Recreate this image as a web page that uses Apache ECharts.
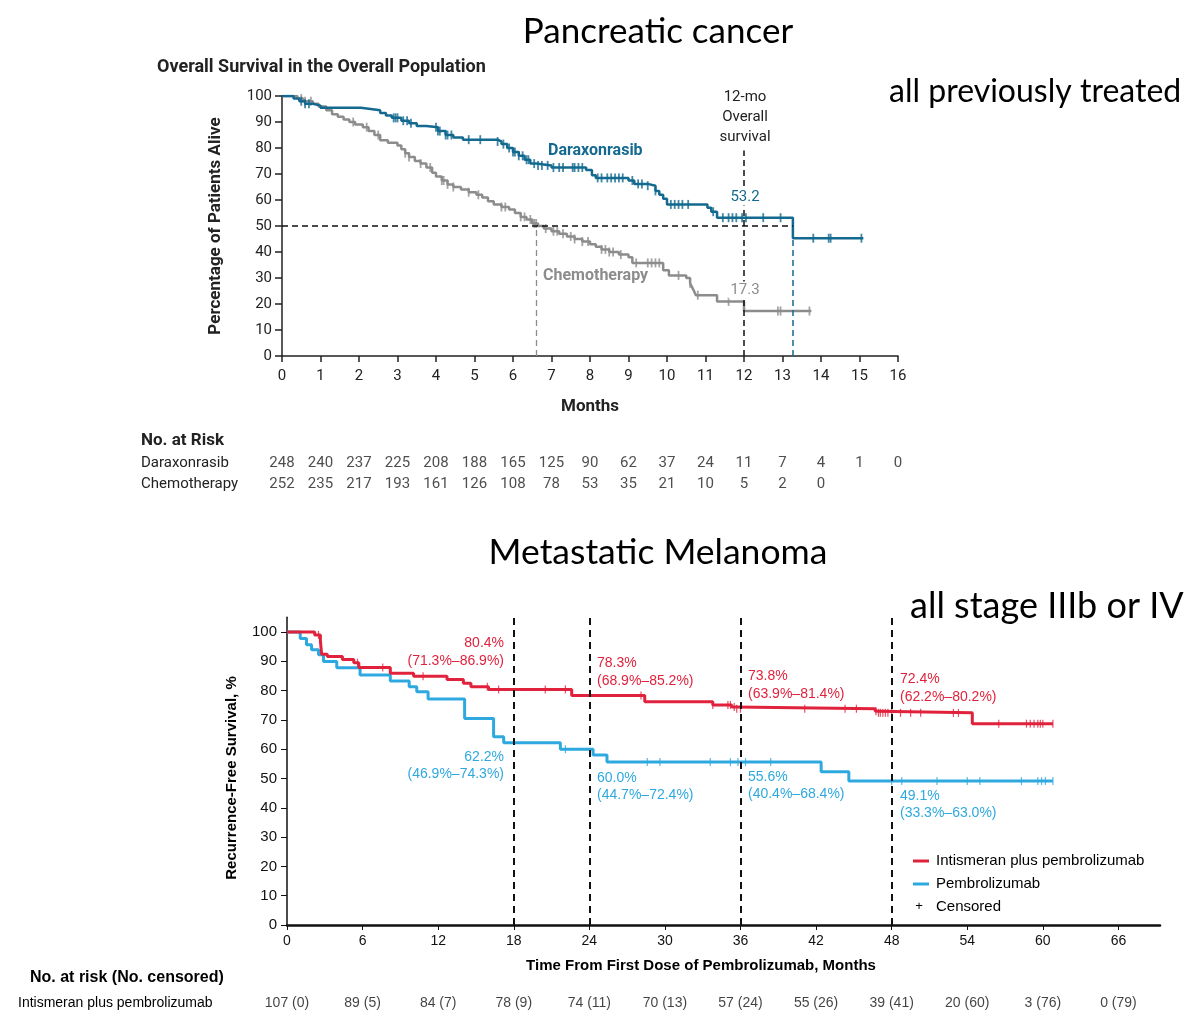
<!DOCTYPE html>
<html>
<head>
<meta charset="utf-8">
<script src="https://cdn.jsdelivr.net/npm/echarts@6/dist/echarts.min.js"></script>
<style>html,body{margin:0;padding:0;background:#fff;}#c{width:1200px;height:1033px;}</style>
</head>
<body>
<div id="c"></div>
<script>
// ---------- Pancreatic cancer (top) ----------
const daraTimes = [0,0.3,0.45,0.6,0.8,1.0,2.05,2.3,2.55,2.7,2.85,3.1,3.3,3.5,3.75,4.05,4.25,4.45,4.7,5.6,5.7,5.85,6.0,6.15,6.3,6.45,6.6,7.0,7.9,8.05,8.15,9.0,9.15,9.5,9.7,9.8,9.9,10.0,11.05,11.15,11.3,13.27,15.1];
const daraSurv  = [100,99,98,97,96.3,95.5,95,94.5,93.5,92.5,91.6,90.5,89.5,88.5,88,86.5,85,84,83.2,82.5,81.5,80,78.5,77,75.5,74,73.3,72.5,71.5,69.5,68.5,67.5,66.2,65.5,63.5,62,60.5,58.3,57,55.5,53.2,45.3,45.3];
const daraCensor = [0.5,0.6,0.7,2.9,2.95,3.0,3.15,3.25,3.35,4.0,4.05,4.1,4.25,4.3,4.4,4.85,5.15,5.6,5.75,5.9,6.0,6.05,6.15,6.25,6.35,6.4,6.55,6.65,6.75,6.9,7.05,7.2,7.3,7.55,7.6,7.7,7.8,8.2,8.3,8.45,8.55,8.65,8.75,8.85,9.1,9.25,9.35,9.5,9.7,10.1,10.2,10.3,10.4,10.55,11.2,11.45,11.6,11.7,11.8,11.95,12.05,12.5,12.95,13.8,14.2,14.25,15.05];

const chemoTimes = [0,0.4,0.55,0.8,0.95,1.15,1.3,1.45,1.6,1.75,1.9,2.1,2.25,2.4,2.55,2.75,3.0,3.1,3.2,3.3,3.45,3.6,3.75,3.9,4.0,4.15,4.3,4.45,4.65,4.85,5.05,5.2,5.35,5.5,5.7,5.9,6.05,6.2,6.35,6.5,6.65,6.8,7.0,7.2,7.4,7.6,7.8,8.0,8.15,8.3,8.5,8.75,9.0,9.1,9.9,10.05,10.5,10.6,10.65,10.7,10.75,11.3,12.0,13.75];
const chemoSurv  = [100,99,98,97,96,94.5,93,92,91,90,89,88,86.5,85,83,82,81,79.5,78,76.5,75,74,72.5,70.5,69,67.5,66,65,64,63,62,61,59.5,58.3,57.3,56.3,55,53.5,52.5,51,50,49,48,47,46,45,44,43,42,41,40,39,38,35.8,33,31,30,28,26.5,25,23.4,21,17.3,17.3];
const chemoCensor = [0.5,0.6,0.75,1.85,2.2,2.5,3.2,3.3,3.6,3.85,4.15,4.2,4.3,4.45,4.85,5.1,5.7,5.8,6.2,6.3,6.45,6.55,6.6,6.85,7.05,7.15,7.3,7.5,7.6,7.8,7.95,8.3,8.4,8.5,8.6,8.8,9.2,9.5,9.6,9.7,9.8,10.3,10.6,10.8,11.6,12.88,12.95,13.7];

const topMonths = [0,1,2,3,4,5,6,7,8,9,10,11,12,13,14,15,16];
const daraRisk  = [248,240,237,225,208,188,165,125,90,62,37,24,11,7,4,1,0];
const chemoRisk = [252,235,217,193,161,126,108,78,53,35,21,10,5,2,0];
const medianDara = 13.27, medianChemo = 6.6, landmarkTop = 12;

// ---------- Metastatic melanoma (bottom) ----------
const intiTimes = [0,2.2,2.65,2.75,3.2,4.4,5.3,5.7,8.2,10.05,12.7,14.0,14.6,16.0,22.6,28.4,33.8,35.3,35.6,46.7,46.9,54.4,60.8];
const intiSurv  = [100,99,97,92.4,91.6,90.6,89.5,87.9,85.9,84.9,83.8,82.5,81.3,80.4,78.3,76.2,75.1,74.4,73.8,72.9,72.4,68.7,68.7];
const intiCensor = [2.5,5.6,7.6,10.8,15.9,16.8,20.5,22.1,28.1,33.8,35.0,35.2,35.5,35.7,36.0,41.1,44.3,45.2,46.75,46.95,47.1,47.3,47.5,47.7,48.0,48.7,49.5,50.3,52.9,53.3,56.5,58.7,59.0,59.3,59.6,59.8,60.0,60.8];

const pemTimes = [0,1.05,1.55,1.95,2.5,2.9,3.95,5.8,8.2,9.7,10.3,11.2,14.1,16.4,17.2,21.7,24.3,25.4,42.4,44.6,60.8];
const pemSurv  = [100,97.8,95.6,93.9,92.2,89.9,87.8,85.3,83.3,81.3,79.6,77.1,70.5,64.2,62.2,60.0,58.0,55.6,52.3,49.1,49.1];
const pemCensor = [22.1,28.6,29.6,33.6,35.2,35.8,36.4,38.4,48.0,48.8,51.6,54.0,55.0,58.3,59.6,59.9,60.2,60.8];

const melMonths = [0,6,12,18,24,30,36,42,48,54,60,66];
const melRisk = ['107 (0)','89 (5)','84 (7)','78 (9)','74 (11)','70 (13)','57 (24)','55 (26)','39 (41)','20 (60)','3 (76)','0 (79)'];
const melLandmarks = [18,24,36,48];
const melYTicks = [0,10,20,30,40,50,60,70,80,90,100];
const intiAnnot = [['80.4%','(71.3%–86.9%)'],['78.3%','(68.9%–85.2%)'],['73.8%','(63.9%–81.4%)'],['72.4%','(62.2%–80.2%)']];
const pemAnnot  = [['62.2%','(46.9%–74.3%)'],['60.0%','(44.7%–72.4%)'],['55.6%','(40.4%–68.4%)'],['49.1%','(33.3%–63.0%)']];

// ---------- helpers ----------
function stepData(t, s){ return t.map((v,i)=>[v, s[i]]); }
function censorData(c, t, s){
  return c.map(x=>{ let v=s[0]; for(let i=0;i<t.length;i++){ if(t[i]<=x) v=s[i]; } return [x, v]; });
}

const TEAL='#13698f', GRAY='#8c8c8c', RED='#e1223d', BLUE='#2ea9df';
const F_TOP='"Liberation Sans Narrow", Roboto, sans-serif';
const F_BOT='"Liberation Sans", Arial, sans-serif';
const F_TTL='Lato, "Open Sans", sans-serif';

function txt(text, x, y, o){
  o = o || {};
  const st = { text:text, fill:o.color||'#111', font:(o.weight||'normal')+' '+(o.size||15)+'px '+(o.family||F_TOP),
      align:o.align||'left', verticalAlign:'middle' };
  if (o.bg) { st.backgroundColor = o.bg; st.padding = [1,2]; }
  return { type:'text', x:x, y:y, rotation:o.rot||0, silent:true, z:100, style:st };
}

const chart = echarts.init(document.getElementById('c'), null, {renderer:'canvas', width:1200, height:1033});

const graphics = [
  txt('Pancreatic cancer', 658, 32, {size:35, family:F_TTL, align:'center', color:'#000'}),
  txt('Overall Survival in the Overall Population', 157, 67, {size:18, weight:'bold', color:'#222'}),
  txt('all previously treated', 889, 92, {size:32, family:F_TTL, color:'#000'}),
  txt('12-mo', 745, 97, {size:15, align:'center', color:'#222'}),
  txt('Overall', 745, 117, {size:15, align:'center', color:'#222'}),
  txt('survival', 745, 137, {size:15, align:'center', color:'#222'}),
  txt('Daraxonrasib', 548, 151, {size:16, weight:'bold', color:TEAL}),
  txt('53.2', 745, 197, {size:15, align:'center', color:TEAL, bg:'#fff'}),
  txt('Chemotherapy', 543, 276, {size:16, weight:'bold', color:GRAY}),
  txt('17.3', 745, 290, {size:15, align:'center', color:GRAY, bg:'#fff'}),
  txt('Percentage of Patients Alive', 216, 226, {size:17, weight:'bold', align:'center', rot:Math.PI/2, color:'#222'}),
  txt('Months', 590, 407, {size:17, weight:'bold', align:'center', color:'#222'}),
  txt('No. at Risk', 141, 441, {size:17, weight:'bold', color:'#222'}),
  txt('Daraxonrasib', 141, 463, {size:15, color:'#222'}),
  txt('Chemotherapy', 141, 484, {size:15, color:'#222'}),

  txt('Metastatic Melanoma', 658, 553, {size:35.5, family:F_TTL, align:'center', color:'#000'}),
  txt('all stage IIIb or IV', 910, 606, {size:36, family:F_TTL, color:'#000'}),
  txt('Recurrence-Free Survival, %', 232, 778, {size:15, weight:'bold', family:F_BOT, align:'center', rot:Math.PI/2, color:'#000'}),
  txt('Time From First Dose of Pembrolizumab, Months', 701, 966, {size:15, weight:'bold', family:F_BOT, align:'center', color:'#000'}),
  txt('No. at risk (No. censored)', 30, 978, {size:16, weight:'bold', family:F_BOT, color:'#000'}),
  txt('Intismeran plus pembrolizumab', 18, 1003, {size:14, family:F_BOT, color:'#000'}),
  // legend
  { type:'rect', silent:true, shape:{x:913, y:859.5, width:16, height:3}, style:{fill:RED} },
  txt('Intismeran plus pembrolizumab', 936, 861, {size:15, family:F_BOT, color:'#000'}),
  { type:'rect', silent:true, shape:{x:913, y:882.5, width:16, height:3}, style:{fill:BLUE} },
  txt('Pembrolizumab', 936, 884, {size:15, family:F_BOT, color:'#000'}),
  txt('+', 919, 906, {size:13, family:F_BOT, align:'center', color:'#000'}),
  txt('Censored', 936, 907, {size:15, family:F_BOT, color:'#000'})
];
// melanoma landmark annotations
const annX = [504, 597, 748, 900];
const redY = [643, 663, 676, 679];
const bluY = [757, 778, 777, 796];
intiAnnot.forEach((a,i)=>{
  const al = i===0 ? 'right' : 'left';
  graphics.push(txt(a[0], annX[i], redY[i], {size:14, family:F_BOT, align:al, color:RED}));
  graphics.push(txt(a[1], annX[i], redY[i]+18, {size:14, family:F_BOT, align:al, color:RED}));
});
pemAnnot.forEach((a,i)=>{
  const al = i===0 ? 'right' : 'left';
  graphics.push(txt(a[0], annX[i], bluY[i], {size:14, family:F_BOT, align:al, color:BLUE}));
  graphics.push(txt(a[1], annX[i], bluY[i]+17, {size:14, family:F_BOT, align:al, color:BLUE}));
});

const dashBlack = {type:[6,4], color:'#111', width:1.5};

const option = {
  animation:false,
  backgroundColor:'#fff',
  grid:[
    {left:282, top:96, width:616, height:260},
    {left:282, top:463, width:616, height:21},
    {left:287, top:617.3, width:873, height:307.7},
    {left:287, top:998, width:873, height:10}
  ],
  xAxis:[
    {gridIndex:0, type:'value', min:0, max:16, interval:1,
      axisLine:{show:true, onZero:false, lineStyle:{color:'#222', width:1.5}},
      axisTick:{show:true, length:6, lineStyle:{color:'#222', width:1.5}},
      axisLabel:{fontSize:15, color:'#222', margin:13, fontFamily:F_TOP},
      splitLine:{show:false}},
    {gridIndex:1, type:'value', min:0, max:16, show:false},
    {gridIndex:2, type:'value', min:0, max:69.3,
      axisLine:{show:true, onZero:false, lineStyle:{color:'#111', width:2.5}},
      axisTick:{show:true, length:5, customValues:melMonths, lineStyle:{color:'#111', width:1}},
      axisLabel:{fontSize:14, color:'#111', margin:9, fontFamily:F_BOT, customValues:melMonths},
      splitLine:{show:false}},
    {gridIndex:3, type:'value', min:0, max:69.3, show:false}
  ],
  yAxis:[
    {gridIndex:0, type:'value', min:0, max:100, interval:10,
      axisLine:{show:true, onZero:false, lineStyle:{color:'#222', width:1.5}},
      axisTick:{show:true, length:7, lineStyle:{color:'#222', width:1.5}},
      axisLabel:{fontSize:15, color:'#222', margin:10, fontFamily:F_TOP},
      splitLine:{show:false}},
    {gridIndex:1, type:'value', min:0, max:1, inverse:true, show:false},
    {gridIndex:2, type:'value', min:0, max:105,
      axisLine:{show:true, onZero:false, lineStyle:{color:'#111', width:1.5}},
      axisTick:{show:true, length:6, customValues:melYTicks, lineStyle:{color:'#111', width:1}},
      axisLabel:{fontSize:15, color:'#111', margin:10, fontFamily:F_BOT, customValues:melYTicks},
      splitLine:{show:false}},
    {gridIndex:3, type:'value', min:0, max:1, show:false}
  ],
  series:[
    {type:'line', name:'Chemotherapy', xAxisIndex:0, yAxisIndex:0, step:'end', showSymbol:false, symbol:'none',
      data:stepData(chemoTimes, chemoSurv), lineStyle:{color:GRAY, width:2.5}, z:3,
      markLine:{silent:true, symbol:['none','none'], label:{show:false},
        data:[[{coord:[medianChemo,0]},{coord:[medianChemo,50]}]],
        lineStyle:{type:[6,4], color:GRAY, width:1.3}}},
    {type:'line', name:'Daraxonrasib', xAxisIndex:0, yAxisIndex:0, step:'end', showSymbol:false, symbol:'none',
      data:stepData(daraTimes, daraSurv), lineStyle:{color:TEAL, width:2.5}, z:4,
      markLine:{silent:true, symbol:['none','none'], label:{show:false},
        data:[
          [{coord:[0,50], lineStyle:dashBlack},{coord:[medianDara,50]}],
          [{coord:[landmarkTop,0], lineStyle:dashBlack},{coord:[landmarkTop,79]}],
          [{coord:[medianDara,0], lineStyle:{type:[6,4], color:TEAL, width:1.5}},{coord:[medianDara,45.3]}]
        ]}},
    {type:'scatter', xAxisIndex:0, yAxisIndex:0, data:censorData(chemoCensor, chemoTimes, chemoSurv),
      symbol:'rect', symbolSize:[1.8,9], itemStyle:{color:GRAY}, z:3, silent:true},
    {type:'scatter', xAxisIndex:0, yAxisIndex:0, data:censorData(daraCensor, daraTimes, daraSurv),
      symbol:'rect', symbolSize:[1.8,9], itemStyle:{color:TEAL}, z:4, silent:true},
    {type:'scatter', xAxisIndex:1, yAxisIndex:1, silent:true, symbolSize:1, itemStyle:{color:'rgba(0,0,0,0)'},
      data: daraRisk.map((v,i)=>[topMonths[i],0,v]).concat(chemoRisk.map((v,i)=>[topMonths[i],1,v])),
      label:{show:true, position:'inside', formatter:p=>String(p.data[2]), fontSize:15, color:'#222', fontFamily:F_TOP}},

    {type:'line', name:'Pembrolizumab', xAxisIndex:2, yAxisIndex:2, step:'end', showSymbol:false, symbol:'none',
      data:stepData(pemTimes, pemSurv), lineStyle:{color:BLUE, width:3}, z:3},
    {type:'line', name:'Intismeran plus pembrolizumab', xAxisIndex:2, yAxisIndex:2, step:'end', showSymbol:false, symbol:'none',
      data:stepData(intiTimes, intiSurv), lineStyle:{color:RED, width:3}, z:4,
      markLine:{silent:true, symbol:['none','none'], label:{show:false},
        data: melLandmarks.map(v=>({xAxis:v})), lineStyle:{type:[7,5], color:'#111', width:2}}},
    {type:'scatter', xAxisIndex:2, yAxisIndex:2, data:censorData(pemCensor, pemTimes, pemSurv),
      symbol:'rect', symbolSize:[1.2,8], itemStyle:{color:BLUE}, z:3, silent:true},
    {type:'scatter', xAxisIndex:2, yAxisIndex:2, data:censorData(intiCensor, intiTimes, intiSurv),
      symbol:'rect', symbolSize:[1.2,8], itemStyle:{color:RED}, z:4, silent:true},
    {type:'scatter', xAxisIndex:3, yAxisIndex:3, silent:true, symbolSize:1, itemStyle:{color:'rgba(0,0,0,0)'},
      data: melRisk.map((v,i)=>[melMonths[i],0.5,v]),
      label:{show:true, position:'inside', formatter:p=>p.data[2], fontSize:14, color:'#111', fontFamily:F_BOT}}
  ],
  graphic: graphics
};
chart.setOption(option);
</script>
</body>
</html>
